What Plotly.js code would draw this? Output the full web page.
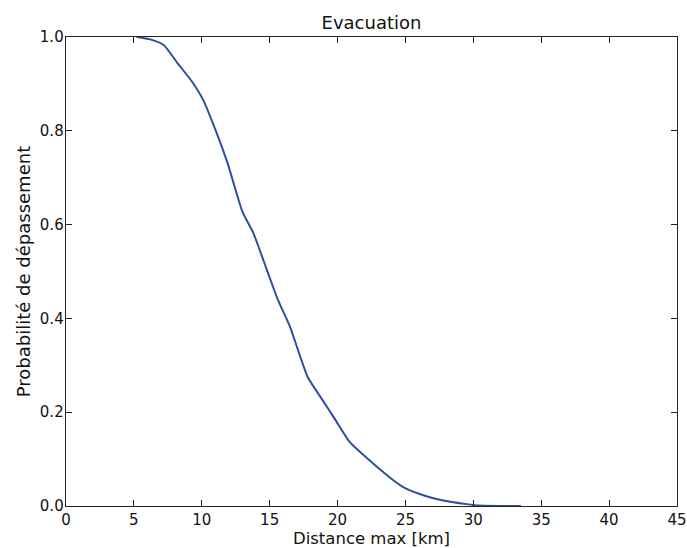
<!DOCTYPE html>
<html>
<head>
<meta charset="utf-8">
<script src="https://cdn.plot.ly/plotly-3.0.1.min.js"></script>
<style>html,body{margin:0;padding:0;background:#fff;}#chart{width:687px;height:548px;}</style>
</head>
<body>
<div id="chart"></div>
<script>
const distanceKm = [5.2, 6.2, 7.2, 8.2, 9.3, 10.1, 11.1, 11.9, 13.0, 13.8, 14.8, 15.6, 16.5, 17.8, 18.8, 19.7, 20.9, 22.6, 23.8, 24.8, 26.0, 27.0, 28.3, 29.5, 30.5, 32.0, 33.5];
const exceedProb = [1.0, 0.995, 0.983, 0.945, 0.904, 0.866, 0.795, 0.731, 0.627, 0.582, 0.503, 0.44, 0.382, 0.275, 0.23, 0.19, 0.136, 0.091, 0.062, 0.041, 0.026, 0.017, 0.009, 0.004, 0.001, 0.0, 0.0];
const xTicks = [0, 5, 10, 15, 20, 25, 30, 35, 40, 45];
const yTicks = [0.0, 0.2, 0.4, 0.6, 0.8, 1.0];

const fam = 'DejaVu Sans, sans-serif';
const axisCommon = {
  showgrid: false, zeroline: false, showline: true, linecolor: '#222', linewidth: 1.3,
  mirror: 'ticks', ticks: 'inside', ticklen: 6, tickcolor: '#222', tickwidth: 1,
  tickfont: {family: fam, size: 15, color: '#111'}
};
Plotly.newPlot('chart', [{
  x: distanceKm, y: exceedProb, type: 'scatter', mode: 'lines',
  line: {color: '#2f4ea2', width: 2, shape: 'spline', smoothing: 0.5}
}], {
  width: 687, height: 548,
  margin: {l: 66, r: 10, t: 37, b: 42},
  paper_bgcolor: '#fff', plot_bgcolor: '#fff',
  showlegend: false,
  title: {text: 'Evacuation', font: {family: fam, size: 18, color: '#111'}, xref: 'paper', x: 0.5, xanchor: 'center', y: 0.958, yanchor: 'middle'},
  xaxis: Object.assign({}, axisCommon, {
    range: [0, 45], tickvals: xTicks, ticktext: xTicks.map(String),
    title: {text: 'Distance max [km]', font: {family: fam, size: 16.5, color: '#111'}, standoff: 0}
  }),
  yaxis: Object.assign({}, axisCommon, {
    range: [0, 1], tickvals: yTicks, ticktext: yTicks.map(v => v.toFixed(1)),
    ticklabelstandoff: -2,
    title: {text: 'Probabilité de dépassement', font: {family: fam, size: 18, color: '#111'}, standoff: 4}
  })
}, {staticPlot: true});
</script>
</body>
</html>
